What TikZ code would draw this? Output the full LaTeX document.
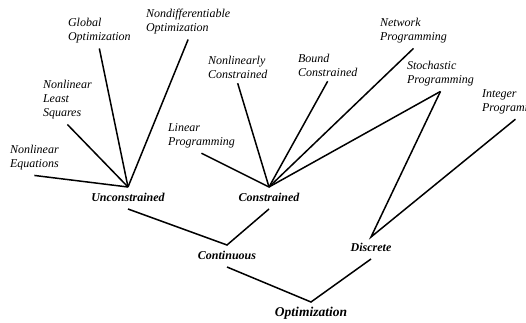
\documentclass[tikz,border=0pt]{standalone}
\usepackage{fontspec}
\setmainfont{Liberation Serif}

\begin{document}
\begin{tikzpicture}[x=1pt,y=-1pt,
  conn/.style={line width=1.5pt},
  leafnode/.style={anchor=west,align=left,inner sep=0pt,outer sep=5pt,
    font=\itshape\fontsize{12}{14}\selectfont},
  midnode/.style={inner sep=0pt,outer sep=5pt,text height=9pt,text depth=3pt,
    font=\bfseries\itshape\fontsize{12}{14}\selectfont},
  topnode/.style={midnode,font=\bfseries\itshape\fontsize{13.5}{15}\selectfont}]
\useasboundingbox (0,0) rectangle (526,323);
%levels
\node[topnode] (opt) at (311,313) {Optimization};
\node[midnode] (cont) at (227,256) {Continuous};
\node[midnode] (disc) at (371,248) {Discrete};
\node[midnode] (uncon) at (128,198) {Unconstrained};
\node[midnode] (con) at (269,198) {Constrained};
%leaves of unconstrained
\node[leafnode] (leq) at (5,158) {Nonlinear\\Equations};
\node[leafnode] (lsq) at (38,100) {Nonlinear\\Least\\Squares};
\node[leafnode] (glob) at (63,31) {Global\\Optimization};
\node[leafnode] (nondiff) at (141,22) {Nondifferentiable\\Optimization};
%leaves of constrained
\node[leafnode] (linprog) at (163,136) {Linear\\Programming};
\node[leafnode] (nlcon) at (203,67) {Nonlinearly\\Constrained};
\node[leafnode] (bound) at (293,65) {Bound\\Constrained};
\node[leafnode] (network) at (375,31) {Network\\Programming};
\node[leafnode] (stoch) at (402,74) {Stochastic\\Programming};
\node[leafnode] (integer) at (477,102) {Integer\\Programming};
%connectors
\draw[conn] (cont.south) -- (opt.north) -- (disc.south);
\draw[conn] (uncon.south) -- (cont.north) -- (con.south);
\draw[conn] (stoch.south) -- (disc.north) -- (integer.south);
\foreach \leaf in {leq,lsq,glob,nondiff}
  \draw[conn] (\leaf.south) -- (uncon.north);
\foreach \leaf in {linprog,nlcon,bound,network,stoch}
  \draw[conn] (\leaf.south) -- (con.north);
\end{tikzpicture}
\end{document}
